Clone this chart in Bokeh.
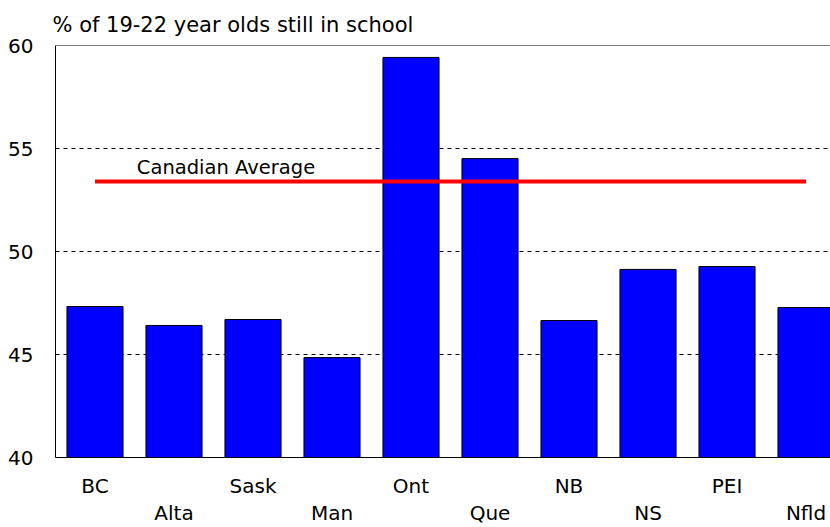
from bokeh.plotting import figure
from bokeh.models import LinearAxis, FixedTicker, Range1d, Label, Span
from bokeh.embed import file_html
from bokeh.resources import INLINE

categories = ["BC", "Alta", "Sask", "Man", "Ont", "Que", "NB", "NS", "PEI", "Nfld"]
values = [47.33, 46.41, 46.70, 44.85, 59.42, 54.51, 46.65, 49.13, 49.27, 47.28]
canadian_average = 53.4
y_ticks = [40, 45, 50, 55, 60]
title_text = "% of 19-22 year olds still in school"
avg_label = "Canadian Average"

FONT = "DejaVu Sans"
xs = [i + 0.5 for i in range(len(categories))]

p = figure(width=830, height=527, x_range=Range1d(0, 9.81), y_range=Range1d(40, 60),
           x_axis_type=None, output_backend="svg", toolbar_location=None,
           min_border_left=55, min_border_top=45, min_border_bottom=70, min_border_right=0)
p.outline_line_color = None
p.background_fill_color = "white"
p.border_fill_color = "white"

# title
p.title.text = title_text
p.title.text_font = FONT
p.title.text_font_size = "21px"
p.title.text_font_style = "normal"
p.title.text_color = "black"
p.title.align = "left"
p.title.offset = -3
p.title.standoff = 17

# y axis
yax = p.yaxis[0]
yax.ticker = FixedTicker(ticks=y_ticks)
yax.major_tick_line_color = None
yax.minor_tick_line_color = None
yax.axis_line_color = "black"
yax.major_label_text_font = FONT
yax.major_label_text_font_size = "20px"
yax.major_label_text_color = "black"
yax.major_label_standoff = 16

# grid
p.ygrid.ticker = FixedTicker(ticks=[45, 50, 55])
p.ygrid.grid_line_color = "black"
p.ygrid.grid_line_dash = "4 4"
p.ygrid.grid_line_width = 1

# top border
p.add_layout(Span(location=60, dimension="width", line_color="black", line_width=1))

# staggered category axes
even_ticks = xs[0::2]
odd_ticks = xs[1::2]
ax1 = LinearAxis(ticker=FixedTicker(ticks=even_ticks),
                 major_label_overrides={t: c for t, c in zip(even_ticks, categories[0::2])})
ax2 = LinearAxis(ticker=FixedTicker(ticks=odd_ticks),
                 major_label_overrides={t: c for t, c in zip(odd_ticks, categories[1::2])})
for ax, so in ((ax1, 10), (ax2, -6)):
    ax.major_tick_line_color = None
    ax.minor_tick_line_color = None
    ax.major_label_text_font = FONT
    ax.major_label_text_font_size = "20px"
    ax.major_label_text_color = "black"
    ax.major_label_standoff = so
ax1.axis_line_color = "black"
ax2.axis_line_color = None
p.add_layout(ax1, "below")
p.add_layout(ax2, "below")

# bars
p.vbar(x=xs, top=values, bottom=40, width=0.71, fill_color="#0000FF", line_color="black", line_width=1)

# average line
p.line(x=[xs[0], xs[-1]], y=[canadian_average, canadian_average], line_color="#FF0000", line_width=4)
p.add_layout(Label(x=1.03, y=54.08, text=avg_label, text_font=FONT, text_font_size="19.5px",
                   text_color="black", text_baseline="alphabetic"))

open("out.html", "w").write(file_html(p, INLINE))
